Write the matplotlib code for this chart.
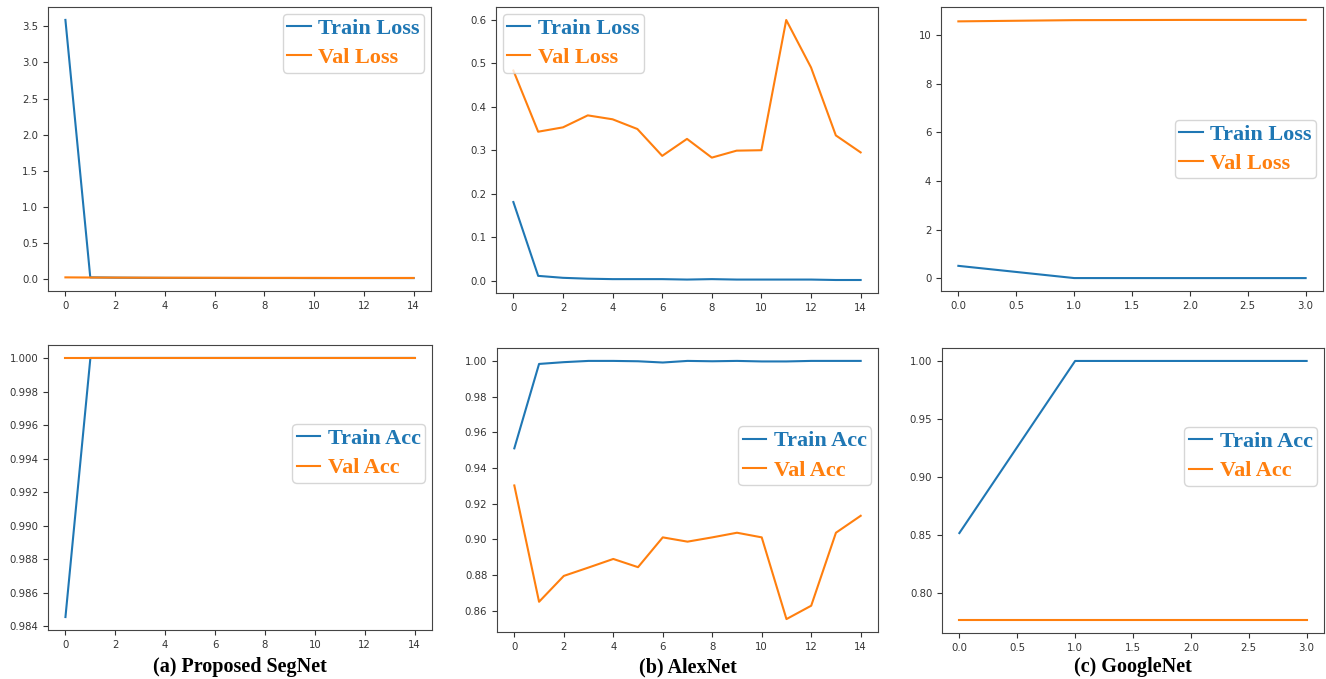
import numpy as np
import matplotlib.pyplot as plt

# epochs
epochs_seg = list(range(15))
epochs_alex = list(range(15))
epochs_goog = [0, 1, 2, 3]

# (a) Proposed SegNet
seg_train_loss = [3.59, 0.020, 0.016, 0.014, 0.013, 0.012, 0.012, 0.011, 0.011, 0.011, 0.010, 0.010, 0.010, 0.010, 0.010]
seg_val_loss = [0.020, 0.018, 0.017, 0.016, 0.015, 0.015, 0.014, 0.014, 0.013, 0.013, 0.013, 0.012, 0.012, 0.012, 0.012]
seg_train_acc = [0.98456, 1.0, 1.0, 1.0, 1.0, 1.0, 1.0, 1.0, 1.0, 1.0, 1.0, 1.0, 1.0, 1.0, 1.0]
seg_val_acc = [1.0] * 15

# (b) AlexNet
alex_train_loss = [0.181, 0.0115, 0.007, 0.005, 0.004, 0.004, 0.004, 0.003, 0.004, 0.003, 0.003, 0.003, 0.003, 0.002, 0.002]
alex_val_loss = [0.483, 0.3425, 0.3525, 0.380, 0.371, 0.3487, 0.287, 0.326, 0.283, 0.299, 0.300, 0.599, 0.490, 0.334, 0.295]
alex_train_acc = [0.951, 0.9983, 0.9993, 1.0, 1.0, 0.9998, 0.9991, 1.0, 0.9998, 1.0, 0.9997, 0.9997, 1.0, 1.0, 1.0]
alex_val_acc = [0.9302, 0.865, 0.8795, 0.8842, 0.889, 0.8844, 0.9011, 0.8987, 0.9011, 0.9037, 0.9011, 0.8553, 0.8628, 0.9037, 0.9132]

# (c) GoogleNet
goog_train_loss = [0.506, 0.003, 0.002, 0.002]
goog_val_loss = [10.57, 10.62, 10.63, 10.63]
goog_train_acc = [0.8514, 1.0, 1.0, 1.0]
goog_val_acc = [0.7763, 0.7763, 0.7763, 0.7763]

captions = ['(a) Proposed SegNet', '(b) AlexNet', '(c) GoogleNet']

W, H = 1326, 679
fig = plt.figure(figsize=(W / 100, H / 100), dpi=100)

def px_axes(l, t, r, b):
    return fig.add_axes([l / W, 1 - b / H, (r - l) / W, (b - t) / H])

leg_font = {'family': 'Liberation Serif', 'weight': 'bold', 'size': 16}

def draw(ax, x, a, b, labels, loc, anchor=None):
    ax.plot(x, a, color='#1f77b4', lw=1.5, label=labels[0])
    ax.plot(x, b, color='#ff7f0e', lw=1.5, label=labels[1])
    ax.tick_params(labelsize=7.3, colors='#333333', length=3.5, width=0.8)
    for s in ax.spines.values():
        s.set_color('#444444')
    kw = dict(loc=loc, prop=leg_font, labelcolor='linecolor', handlelength=1.05,
              handletextpad=0.35, borderpad=0.2, labelspacing=0.4, borderaxespad=0.3)
    if anchor is not None:
        kw['bbox_to_anchor'] = anchor
    ax.legend(**kw)

loss_lbl = ['Train Loss', 'Val Loss']
acc_lbl = ['Train Acc', 'Val Acc']

ax1 = px_axes(48, 7, 431, 291)
draw(ax1, epochs_seg, seg_train_loss, seg_val_loss, loss_lbl, 'upper right')
ax2 = px_axes(496, 7, 878, 293)
draw(ax2, epochs_alex, alex_train_loss, alex_val_loss, loss_lbl, 'upper left')
ax3 = px_axes(941, 7, 1323, 291)
draw(ax3, epochs_goog, goog_train_loss, goog_val_loss, loss_lbl, 'center right')

ax4 = px_axes(48, 345, 432, 630)
draw(ax4, epochs_seg, seg_train_acc, seg_val_acc, acc_lbl, 'center right', (1, 0.62))
ax5 = px_axes(497, 348, 878, 632)
draw(ax5, epochs_alex, alex_train_acc, alex_val_acc, acc_lbl, 'center right', (1, 0.62))
ax6 = px_axes(942, 348, 1324, 633)
draw(ax6, epochs_goog, goog_train_acc, goog_val_acc, acc_lbl, 'center right', (1, 0.62))

for ax, cap in zip([ax4, ax5, ax6], captions):
    pos = ax.get_position()
    fig.text((pos.x0 + pos.x1) / 2, 1 - 667 / H, cap, ha='center', va='center',
             family='Liberation Serif', weight='bold', fontsize=14.5)

fig.savefig('out.png', dpi=100)
